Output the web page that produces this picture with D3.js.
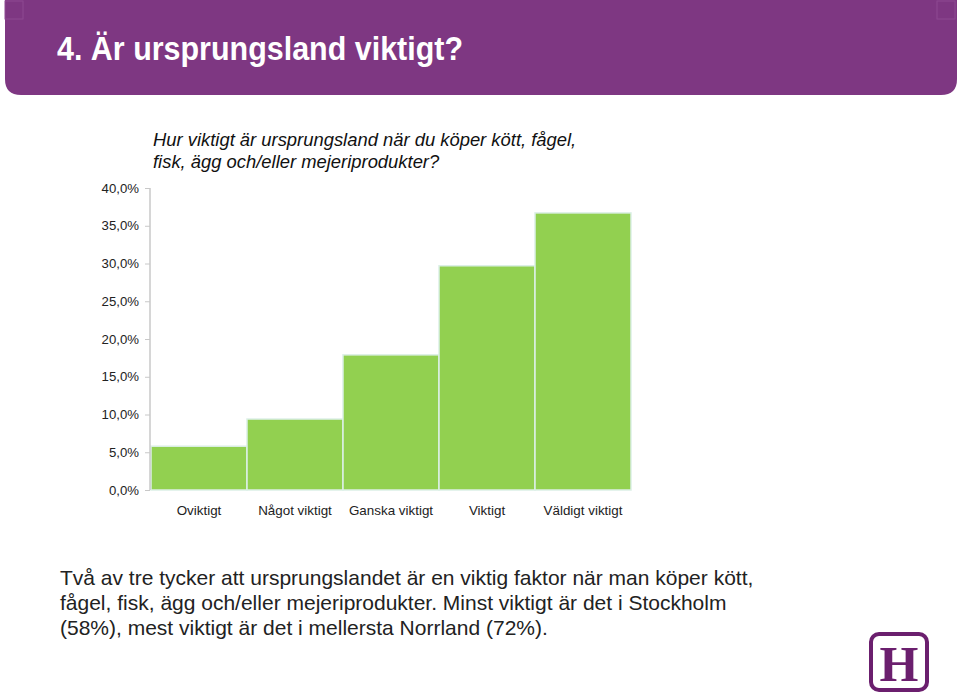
<!DOCTYPE html>
<html><head><meta charset="utf-8">
<script src="https://cdn.jsdelivr.net/npm/d3@7"></script>
<style>
html,body{margin:0;padding:0;background:#fff;}
svg{display:block;}
</style></head>
<body>
<svg id="c" width="960" height="696"></svg>
<script>
const categories = ["Oviktigt", "Något viktigt", "Ganska viktigt", "Viktigt", "Väldigt viktigt"];
const values = [5.8, 9.4, 17.9, 29.7, 36.7];
const yTicks = [0, 5, 10, 15, 20, 25, 30, 35, 40];
const titleText = "4. Är ursprungsland viktigt?";
const questionLines = ["Hur viktigt är ursprungsland när du köper kött, fågel,", "fisk, ägg och/eller mejeriprodukter?"];
const bodyLines = [
  "Två av tre tycker att ursprungslandet är en viktig faktor när man köper kött,",
  "fågel, fisk, ägg och/eller mejeriprodukter. Minst viktigt är det i Stockholm",
  "(58%), mest viktigt är det i mellersta Norrland (72%)."
];

const svg = d3.select("#c");

// header band
const hx = 5, hw = 952, hh = 95, r = 16;
svg.append("path")
  .attr("d", `M${hx},0 H${hx+hw} V${hh-r} Q${hx+hw},${hh} ${hx+hw-r},${hh} H${hx+r} Q${hx},${hh} ${hx},${hh-r} Z`)
  .attr("fill", "#7E3782");
svg.append("rect").attr("x", 5).attr("y", 1).attr("width", 18).attr("height", 18)
  .attr("fill", "none").attr("stroke", "#8d4a91").attr("stroke-width", 1);
svg.append("rect").attr("x", 937).attr("y", 1).attr("width", 18).attr("height", 18)
  .attr("fill", "none").attr("stroke", "#8d4a91").attr("stroke-width", 1);
svg.append("text").attr("x", 57).attr("y", 60)
  .attr("font-family", "'Liberation Sans', Arial, sans-serif")
  .attr("font-weight", "bold").attr("font-size", 32.5).attr("fill", "#fff")
  .attr("textLength", 406).attr("lengthAdjust", "spacingAndGlyphs")
  .text(titleText);

// chart
const x = d3.scaleBand().domain(categories).range([151, 631]).paddingInner(0).paddingOuter(0);
const y = d3.scaleLinear().domain([0, 40]).range([490, 188]);

const q = svg.append("text")
  .attr("font-family", "'Liberation Sans', Arial, sans-serif")
  .attr("font-style", "italic").attr("font-size", 18.4).attr("fill", "#111");
questionLines.forEach((l, i) => q.append("tspan").attr("x", 153).attr("y", 146 + i * 22).text(l));

svg.append("g").selectAll("rect").data(values).join("rect")
  .attr("x", (d, i) => x(categories[i]))
  .attr("y", d => y(d))
  .attr("width", x.bandwidth())
  .attr("height", d => y(0) - y(d))
  .attr("fill", "#92D050")
  .attr("stroke", "#dcefe6").attr("stroke-width", 1.5);

const yAxis = d3.axisLeft(y).tickValues(yTicks).tickSize(5).tickPadding(6)
  .tickFormat(d => d3.format(".1f")(d).replace(".", ",") + "%");
const ga = svg.append("g").attr("transform", "translate(150,0)").call(yAxis);
ga.select(".domain").attr("stroke", "#c8c8c8").attr("stroke-width", 1.5).attr("d", `M0,${y(40)}V${y(0)}`);
ga.selectAll(".tick line").attr("stroke", "#c8c8c8");
ga.selectAll(".tick text").attr("font-family", "'Liberation Sans', Arial, sans-serif")
  .attr("font-size", 13.2).attr("fill", "#222");

const xAxis = d3.axisBottom(x).tickSize(0).tickPadding(15);
const gx = svg.append("g").attr("transform", "translate(0,490)").call(xAxis);
gx.select(".domain").remove();
gx.selectAll(".tick text").attr("font-family", "'Liberation Sans', Arial, sans-serif")
  .attr("font-size", 13.4).attr("fill", "#222");

// body text
const b = svg.append("text")
  .attr("font-family", "'Liberation Sans', Arial, sans-serif")
  .attr("font-size", 21).attr("fill", "#222");
bodyLines.forEach((l, i) => b.append("tspan").attr("x", 60).attr("y", 585 + i * 25).text(l));

// logo
svg.append("rect").attr("x", 871).attr("y", 634).attr("width", 56).attr("height", 56).attr("rx", 8)
  .attr("fill", "none").attr("stroke", "#6B1F6E").attr("stroke-width", 4);
svg.append("text").attr("x", 899).attr("y", 681).attr("text-anchor", "middle")
  .attr("font-family", "'Liberation Serif', 'DejaVu Serif', serif").attr("font-weight", "bold")
  .attr("font-size", 50).attr("fill", "#6B1F6E").text("H");
</script>
</body></html>
